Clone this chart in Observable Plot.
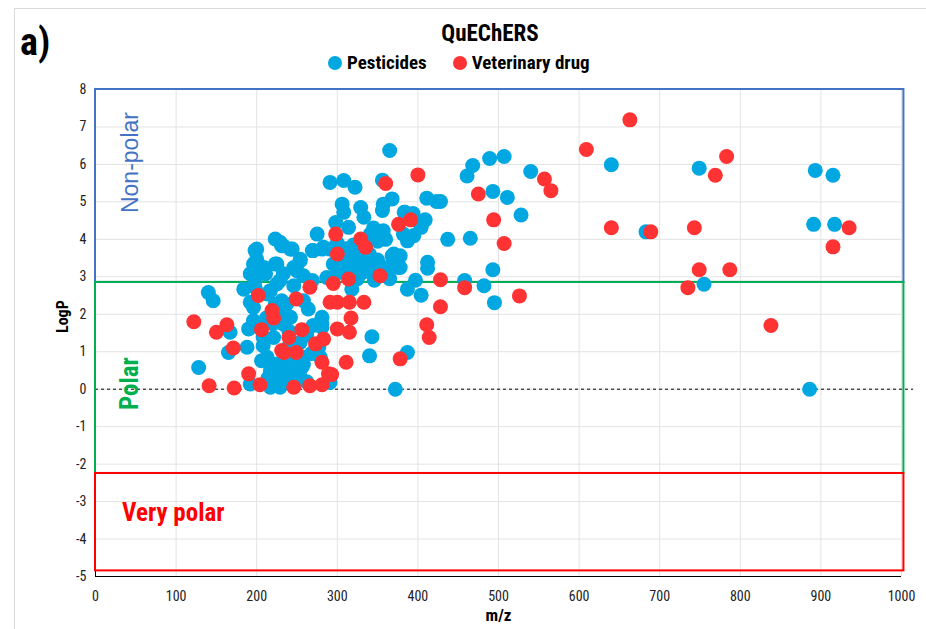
<!DOCTYPE html>
<html><head><meta charset="utf-8">
<script src="https://cdn.jsdelivr.net/npm/d3@7"></script>
<script src="https://cdn.jsdelivr.net/npm/@observablehq/plot@0.6"></script>
<style>
body{margin:0;background:#fff;}
#wrap{position:relative;width:926px;height:629px;overflow:hidden;font-family:"Liberation Sans Narrow","Roboto Condensed","Liberation Sans",Arial,sans-serif;}
#frame{position:absolute;left:14px;top:8px;width:1000px;height:1000px;border-left:1px solid #d9d9d9;border-top:1px solid #d9d9d9;}
#chart{position:absolute;left:0;top:0;}
.lab{position:absolute;font-weight:bold;color:#000;white-space:nowrap;}
#legend{position:absolute;left:328px;top:51px;display:flex;align-items:center;font-weight:bold;font-size:19px;color:#000;}
#legend .sw{width:14px;height:14px;border-radius:50%;display:inline-block;margin-right:5px;}
</style></head>
<body>
<div id="wrap">
  <div id="frame"></div>
  <div id="chart"></div>
  <div class="lab" style="left:20px;top:20px;font-size:38px;">a)</div>
  <div class="lab" style="left:390px;top:20px;width:200px;text-align:center;font-size:23px;">QuEChERS</div>
  <div id="legend"></div>
</div>
<script>
const seriesNames = ["Pesticides", "Veterinary drug"];
const seriesColors = ["#00a7e1", "#ff3333"];
const xTicks = [0,100,200,300,400,500,600,700,800,900,1000];
const yTicks = [-5,-4,-3,-2,-1,0,1,2,3,4,5,6,7,8];
const zoneNames = ["Non-polar", "Polar", "Very polar"];
const zoneLow = [2.85, -2.25, -4.85];
const zoneHigh = [8, 2.85, -2.25];
const zoneColors = ["#4472c4", "#00b050", "#ff0000"];

// [m/z, LogP]
const pesticides = [
[640,5.99],[749,5.90],[893,5.84],[915,5.71],[891,4.40],[917,4.40],[683,4.20],[755,2.80],[886,0.0],
[468,5.97],[461,5.69],[489,6.16],[507,6.21],[540,5.81],[493,5.28],[511,5.12],[528,4.65],[437,4.00],[465,4.03],[493,3.19],[458,2.90],[482,2.76],[495,2.31],[428,5.01],
[411,5.10],[423,5.01],[383,4.72],[394,4.69],[409,4.52],[404,4.32],[395,4.10],[387,3.96],[378,3.56],[378,3.25],[412,3.39],[412,3.23],[397,2.91],[387,2.67],[404,2.51],[387,0.98],[372,0.0],
[343,1.40],[340,0.89],[365,6.37],[356,5.58],[291,5.52],[308,5.57],[322,5.39],[306,4.94],[308,4.72],[329,4.85],[333,4.59],[357,4.94],[368,5.08],[356,4.77],[384,4.72],[357,4.23],[298,4.45],[341,4.14],[314,4.32],[320,3.52],[370,3.61],[291,3.74],[333,3.43],[382,4.14],[275,4.14],[229,3.92],[242,3.74],[254,3.47],[270,3.70],[283,3.79],[295,3.34],[312,3.39],[324,3.43],[337,3.25],[368,3.56],[376,3.25],[341,3.25],[362,3.25],[248,3.21],[269,2.90],[287,2.98],[318,2.67],[346,2.91],[258,2.36],[281,1.65],[279,0.85],[258,0.67],[248,0.85],[229,0.67],[291,0.18],[233,0.32],[229,0.05],
[300,3.9],[310,3.75],[320,3.85],[330,3.7],[305,3.55],[318,3.5],[340,3.6],[350,3.45],[300,3.1],[315,3.15],[330,3.1],[345,3.05],[325,2.95],[335,3.9],[350,3.95],[345,4.3],[360,4.0],[355,3.2],[365,2.95],
[140,2.58],[146,2.36],[167,1.52],[165,0.98],[128,0.58],[188,1.12],[190,1.61],[198,2.72],[184,2.67],[192,2.32],[196,3.34],[198,3.70],[223,4.01],[231,3.83],[225,3.34],[211,3.08],[202,3.08],[225,2.81],[213,2.54],[223,2.27],[231,2.36],[208,1.38],[221,1.38],[206,0.76],[225,0.67],[229,0.32],[217,0.05],[192,0.14],[233,3.83],[244,3.74],[200,3.74],[254,3.43],[269,3.70],[281,3.74],[223,3.34],[246,3.25],[200,3.47],[209,3.25],[233,3.08],[258,3.03],[192,3.08],[213,0.85],[208,1.16],[217,0.49],[229,0.41],[237,0.23],[254,0.32],[256,0.58],[233,0.67],[254,1.25],[258,0.85],[242,1.92],[227,2.01],[233,1.74],[196,1.83],[281,1.74],[277,1.12],[229,2.90],[217,2.63],[198,2.90],[246,2.76],[237,2.27],[196,2.18],[264,2.14],[281,1.92],[204,3.16],[250,3.16],
[212,1.9],[240,1.55],[262,1.45],[268,0.95],[244,0.5],[214,0.3],[262,0.2],[238,1.1],[220,1.75],[270,1.7]
];
const veterinary = [
[663,7.19],[609,6.40],[783,6.21],[769,5.71],[935,4.31],[915,3.80],[640,4.31],[689,4.20],[743,4.31],[749,3.19],[787,3.19],[735,2.71],[838,1.70],
[557,5.61],[565,5.30],[475,5.21],[494,4.52],[507,3.89],[458,2.71],[526,2.49],[428,2.92],[428,2.20],
[400,5.72],[391,4.52],[376,4.40],[411,1.72],[414,1.38],[378,0.81],
[311,0.72],[293,0.39],[291,2.32],[300,2.32],[315,2.32],[333,2.32],[317,1.90],[300,1.61],[315,1.52],[295,2.82],[314,2.94],[353,3.03],[360,5.49],[298,4.14],[329,4.01],[335,3.79],[300,3.61],
[266,2.72],[249,2.41],[256,1.59],[240,1.38],[234,0.98],[249,0.98],[273,1.21],[283,1.34],[281,0.72],[246,0.05],[266,0.09],[281,0.12],[122,1.80],[150,1.52],[163,1.72],[171,1.10],[141,0.09],[172,0.03],[190,0.41],[204,0.12],[202,2.50],[219,2.10],[221,1.90],[206,1.59],[231,1.03],[289,0.41]
];

const zones = zoneNames.map((n,i)=>({name:n, lo:zoneLow[i], hi:zoneHigh[i], color:zoneColors[i]}));
const narrow = '"Liberation Sans Narrow","Roboto Condensed","Liberation Sans",Arial,sans-serif';

const chart = Plot.plot({
  width: 926, height: 629,
  marginTop: 89, marginBottom: 53, marginLeft: 95, marginRight: 25,
  x: {domain: [0, 1000]},
  y: {domain: [-5, 8]},
  color: {type: "identity"},
  style: {fontFamily: narrow, fontSize: "14px", color: "#222", background: "transparent", overflow: "visible"},
  marks: [
    Plot.gridX(xTicks, {stroke: "#e3e3e3", strokeOpacity: 1}),
    Plot.gridY(yTicks, {stroke: "#e3e3e3", strokeOpacity: 1}),
    Plot.ruleY([-5], {x1: 0, x2: 1000, stroke: "#000", strokeWidth: 1.2}),
    Plot.ruleX([0], {y1: -5, y2: 8, stroke: "#000"}),
    Plot.axisX(xTicks, {tickSize: 0, tickPadding: 15, label: null, fontSize: 14, tickFormat: d => String(d)}),
    Plot.axisY(yTicks, {tickSize: 0, tickPadding: 9, label: null, fontSize: 14, tickFormat: d => String(d).replace("\u2212", "-")}),
    Plot.ruleY([0], {x1: 0, x2: 1015, stroke: "#000", strokeDasharray: "3,3"}),
    Plot.rect(zones, {x1: () => 0, x2: () => 1003, y1: "lo", y2: "hi", stroke: "color", fill: "none", strokeWidth: 2}),
    Plot.dot(pesticides, {x: d => d[0], y: d => d[1], r: 7.5, fill: seriesColors[0], stroke: "none"}),
    Plot.dot(veterinary, {x: d => d[0], y: d => d[1], r: 7.5, fill: seriesColors[1], stroke: "none"}),
    Plot.text([zoneNames[0]], {x: () => 43, y: () => 6.05, rotate: -90, fill: zoneColors[0], fontSize: 23, fontWeight: 500, fontFamily: '"Liberation Sans",Arial,sans-serif'}),
    Plot.text([zoneNames[1]], {x: () => 43, y: () => 0.15, rotate: -90, fill: zoneColors[1], fontSize: 25, fontWeight: "bold"}),
    Plot.text([zoneNames[2]], {x: () => 33, y: () => -3.3, textAnchor: "start", fill: zoneColors[2], fontSize: 25, fontWeight: "bold"}),
    Plot.text(["LogP"], {frameAnchor: "left", dx: -33, rotate: -90, fontWeight: "bold", fontSize: 16, fill: "#000"}),
    Plot.text(["m/z"], {frameAnchor: "bottom", dy: 44, fontWeight: "bold", fontSize: 17, fill: "#000"})
  ]
});
document.getElementById("chart").appendChild(chart);

const leg = document.getElementById("legend");
seriesNames.forEach((n,i)=>{
  const it = document.createElement("span");
  it.style.display="inline-flex"; it.style.alignItems="center"; it.style.marginRight = i===0 ? "26px" : "0";
  it.innerHTML = `<span class="sw" style="background:${seriesColors[i]}"></span>${n}`;
  leg.appendChild(it);
});
</script>
</body></html>
